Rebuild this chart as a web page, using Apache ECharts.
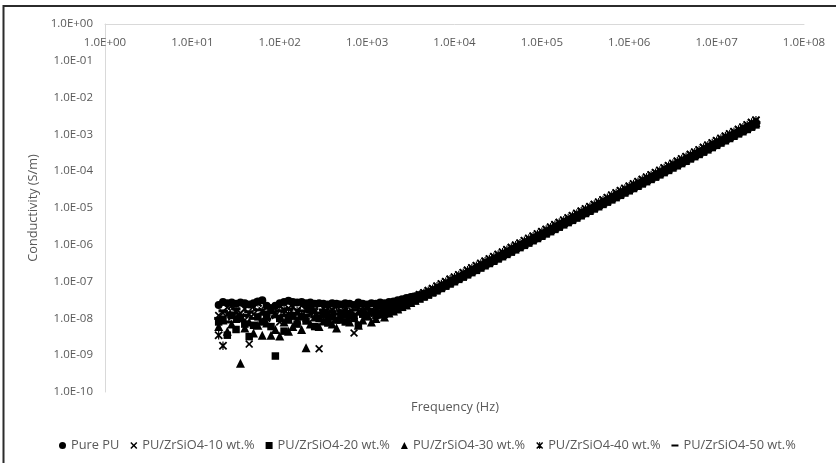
<!DOCTYPE html>
<html>
<head>
<meta charset="utf-8">
<script src="https://cdn.jsdelivr.net/npm/echarts@6/dist/echarts.min.js"></script>
<style>
html,body{margin:0;padding:0;background:#fff;}
#chart{width:836px;height:463px;}
</style>
</head>
<body>
<div id="chart"></div>
<script>
// ---------- DATA ----------
const seriesNames = ['Pure PU', 'PU/ZrSiO4-10 wt.%', 'PU/ZrSiO4-20 wt.%', 'PU/ZrSiO4-30 wt.%', 'PU/ZrSiO4-40 wt.%', 'PU/ZrSiO4-50 wt.%'];
const xTickLabels = ['1.0E+00','1.0E+01','1.0E+02','1.0E+03','1.0E+04','1.0E+05','1.0E+06','1.0E+07','1.0E+08'];
const yTickLabels = ['1.0E-10','1.0E-09','1.0E-08','1.0E-07','1.0E-06','1.0E-05','1.0E-04','1.0E-03','1.0E-02','1.0E-01','1.0E+00'];

// Frequency (Hz)
const freqHz = [
  20, 22.4, 25.1, 28.2, 31.6, 35.5, 39.8, 44.7, 50.1, 56.2, 63.1, 70.8, 79.4, 89.1,
  100, 112, 126, 141, 158, 178, 200, 224, 251, 282, 316, 355, 398, 447, 501, 562, 631, 708, 794, 891,
  1000, 1120, 1260, 1410, 1580, 1780, 2000, 2240, 2510, 2820, 3160, 3550, 3980, 4470, 5010, 5620, 6310, 7080, 7940, 8910,
  1.0e4, 1.12e4, 1.26e4, 1.41e4, 1.58e4, 1.78e4, 2.0e4, 2.24e4, 2.51e4, 2.82e4, 3.16e4, 3.55e4, 3.98e4, 4.47e4, 5.01e4, 5.62e4, 6.31e4, 7.08e4, 7.94e4, 8.91e4,
  1.0e5, 1.12e5, 1.26e5, 1.41e5, 1.58e5, 1.78e5, 2.0e5, 2.24e5, 2.51e5, 2.82e5, 3.16e5, 3.55e5, 3.98e5, 4.47e5, 5.01e5, 5.62e5, 6.31e5, 7.08e5, 7.94e5, 8.91e5,
  1.0e6, 1.12e6, 1.26e6, 1.41e6, 1.58e6, 1.78e6, 2.0e6, 2.24e6, 2.51e6, 2.82e6, 3.16e6, 3.55e6, 3.98e6, 4.47e6, 5.01e6, 5.62e6, 6.31e6, 7.08e6, 7.94e6, 8.91e6,
  1.0e7, 1.12e7, 1.26e7, 1.41e7, 1.58e7, 1.78e7, 2.0e7, 2.24e7, 2.51e7, 2.82e7
];

// Conductivity (S/m), one value per frequency
const condPurePU = [
  2.3e-8, 2.8e-8, 2.6e-8, 2.7e-8, 2.5e-8, 2.7e-8, 2.6e-8, 2.4e-8, 2.6e-8, 2.9e-8, 3.1e-8, 2.2e-8, 1.9e-8, 2.2e-8,
  2.6e-8, 2.8e-8, 3.0e-8, 2.8e-8, 2.7e-8, 2.8e-8, 2.6e-8, 2.7e-8, 2.5e-8, 2.6e-8, 2.5e-8, 2.4e-8, 2.6e-8, 2.5e-8, 2.4e-8, 2.6e-8, 2.5e-8, 2.3e-8, 2.7e-8, 2.5e-8,
  2.4e-8, 2.6e-8, 2.5e-8, 2.7e-8, 2.6e-8, 2.8e-8, 2.9e-8, 3.1e-8, 3.3e-8, 3.6e-8, 3.8e-8, 4.0e-8, 4.3e-8, 4.7e-8, 5.1e-8, 5.7e-8,
  6.5e-8, 7.5e-8, 8.6e-8, 9.9e-8,
  1.15e-7, 1.32e-7, 1.52e-7, 1.75e-7, 2.02e-7, 2.33e-7, 2.69e-7, 3.10e-7, 3.57e-7, 4.12e-7, 4.74e-7, 5.47e-7, 6.31e-7, 7.28e-7, 8.38e-7, 9.66e-7,
  1.11e-6, 1.29e-6, 1.48e-6, 1.71e-6,
  1.97e-6, 2.27e-6, 2.62e-6, 3.01e-6, 3.48e-6, 4.01e-6, 4.62e-6, 5.32e-6, 6.14e-6, 7.08e-6, 8.17e-6, 9.40e-6,
  1.08e-5, 1.25e-5, 1.44e-5, 1.66e-5, 1.91e-5, 2.21e-5, 2.55e-5, 2.93e-5,
  3.38e-5, 3.90e-5, 4.50e-5, 5.18e-5, 5.97e-5, 6.89e-5, 7.94e-5, 9.14e-5,
  1.05e-4, 1.22e-4, 1.40e-4, 1.61e-4, 1.86e-4, 2.15e-4, 2.48e-4, 2.85e-4, 3.29e-4, 3.79e-4, 4.38e-4, 5.04e-4, 5.81e-4, 6.70e-4, 7.73e-4, 8.89e-4,
  1.03e-3, 1.18e-3, 1.36e-3, 1.57e-3, 1.81e-3, 2.09e-3
];
const cond10 = [
  1.2e-8, 1.4e-8, 2.0e-8, 1.1e-8, 1.6e-8, 1.4e-8, 9.0e-9, 2.0e-9, 1.3e-8, 2.6e-8, 1.5e-8, 1.0e-8, 1.7e-8, 1.2e-8,
  8.0e-9, 1.4e-8, 1.9e-8, 1.1e-8, 1.5e-8, 2.2e-8, 1.0e-8, 1.3e-8, 1.7e-8, 1.5e-9, 1.2e-8, 1.8e-8, 1.4e-8, 2.4e-8, 1.1e-8, 1.6e-8, 1.3e-8, 4.0e-9, 1.5e-8, 2.0e-8,
  1.2e-8, 1.7e-8, 1.4e-8, 2.2e-8, 1.6e-8, 1.9e-8, 2.1e-8, 2.4e-8, 2.7e-8, 3.1e-8, 3.5e-8, 3.9e-8, 4.4e-8, 5.0e-8, 5.7e-8, 6.5e-8,
  7.5e-8, 8.6e-8, 9.9e-8, 1.15e-7,
  1.32e-7, 1.52e-7, 1.75e-7, 2.02e-7, 2.33e-7, 2.69e-7, 3.10e-7, 3.57e-7, 4.12e-7, 4.74e-7, 5.47e-7, 6.31e-7, 7.28e-7, 8.38e-7, 9.66e-7, 1.11e-6,
  1.29e-6, 1.48e-6, 1.71e-6, 1.97e-6,
  2.27e-6, 2.62e-6, 3.01e-6, 3.48e-6, 4.01e-6, 4.62e-6, 5.32e-6, 6.14e-6, 7.08e-6, 8.17e-6, 9.40e-6, 1.08e-5,
  1.25e-5, 1.44e-5, 1.66e-5, 1.91e-5, 2.21e-5, 2.55e-5, 2.93e-5, 3.38e-5,
  3.90e-5, 4.50e-5, 5.18e-5, 5.97e-5, 6.89e-5, 7.94e-5, 9.14e-5, 1.05e-4,
  1.22e-4, 1.40e-4, 1.61e-4, 1.86e-4, 2.15e-4, 2.48e-4, 2.85e-4, 3.29e-4, 3.79e-4, 4.38e-4, 5.04e-4, 5.81e-4, 6.70e-4, 7.73e-4, 8.89e-4, 1.03e-3,
  1.18e-3, 1.36e-3, 1.57e-3, 1.81e-3, 2.09e-3, 2.41e-3
];
const cond20 = [
  8.0e-9, 9.5e-9, 3.5e-9, 1.2e-8, 5.0e-9, 1.0e-8, 7.0e-9, 3.2e-9, 6.5e-9, 1.1e-8, 8.0e-9, 1.3e-8, 6.0e-9, 9.5e-10,
  1.0e-8, 4.5e-9, 9.0e-9, 1.2e-8, 7.0e-9, 1.1e-8, 8.5e-9, 1.7e-8, 6.0e-9, 1.0e-8, 1.3e-8, 7.5e-9, 1.1e-8, 9.0e-9, 1.4e-8, 8.0e-9, 1.2e-8, 1.0e-8, 6.5e-9, 1.3e-8,
  1.1e-8, 1.5e-8, 1.2e-8, 1.4e-8, 1.3e-8, 1.5e-8, 1.6e-8, 1.8e-8, 2.0e-8, 2.3e-8, 2.6e-8, 3.0e-8, 3.4e-8, 3.8e-8, 4.3e-8, 4.9e-8,
  5.6e-8, 6.5e-8, 7.5e-8, 8.6e-8,
  9.9e-8, 1.15e-7, 1.32e-7, 1.52e-7, 1.75e-7, 2.02e-7, 2.33e-7, 2.69e-7, 3.10e-7, 3.57e-7, 4.12e-7, 4.74e-7, 5.47e-7, 6.31e-7, 7.28e-7, 8.38e-7,
  9.66e-7, 1.11e-6, 1.29e-6, 1.48e-6,
  1.71e-6, 1.97e-6, 2.27e-6, 2.62e-6, 3.01e-6, 3.48e-6, 4.01e-6, 4.62e-6, 5.32e-6, 6.14e-6, 7.08e-6, 8.17e-6,
  9.40e-6, 1.08e-5, 1.25e-5, 1.44e-5, 1.66e-5, 1.91e-5, 2.21e-5, 2.55e-5,
  2.93e-5, 3.38e-5, 3.90e-5, 4.50e-5, 5.18e-5, 5.97e-5, 6.89e-5, 7.94e-5,
  9.14e-5, 1.05e-4, 1.22e-4, 1.40e-4, 1.61e-4, 1.86e-4, 2.15e-4, 2.48e-4, 2.85e-4, 3.29e-4, 3.79e-4, 4.38e-4, 5.04e-4, 5.81e-4, 6.70e-4, 7.73e-4,
  8.89e-4, 1.03e-3, 1.18e-3, 1.36e-3, 1.57e-3, 1.81e-3
];
const cond30 = [
  6.0e-9, 9.0e-9, 4.5e-9, 7.0e-9, 1.0e-8, 6.0e-10, 5.5e-9, 8.0e-9, 4.0e-9, 6.5e-9, 3.5e-9, 7.5e-9, 3.5e-9, 5.0e-9,
  3.3e-9, 8.0e-9, 4.5e-9, 6.0e-9, 9.0e-9, 5.0e-9, 1.6e-9, 7.0e-9, 1.1e-8, 6.0e-9, 8.5e-9, 1.2e-8, 7.0e-9, 5.5e-9, 9.5e-9, 1.3e-8, 8.0e-9, 1.1e-8, 6.5e-9, 9.0e-9,
  1.2e-8, 8.0e-9, 1.0e-8, 1.3e-8, 1.1e-8, 1.4e-8, 1.6e-8, 1.8e-8, 2.1e-8, 2.3e-8, 2.7e-8, 3.1e-8, 3.6e-8, 4.1e-8, 4.7e-8, 5.5e-8,
  6.5e-8, 7.5e-8, 8.6e-8, 9.9e-8,
  1.15e-7, 1.32e-7, 1.52e-7, 1.75e-7, 2.02e-7, 2.33e-7, 2.69e-7, 3.10e-7, 3.57e-7, 4.12e-7, 4.74e-7, 5.47e-7, 6.31e-7, 7.28e-7, 8.38e-7, 9.66e-7,
  1.11e-6, 1.29e-6, 1.48e-6, 1.71e-6,
  1.97e-6, 2.27e-6, 2.62e-6, 3.01e-6, 3.48e-6, 4.01e-6, 4.62e-6, 5.32e-6, 6.14e-6, 7.08e-6, 8.17e-6, 9.40e-6,
  1.08e-5, 1.25e-5, 1.44e-5, 1.66e-5, 1.91e-5, 2.21e-5, 2.55e-5, 2.93e-5,
  3.38e-5, 3.90e-5, 4.50e-5, 5.18e-5, 5.97e-5, 6.89e-5, 7.94e-5, 9.14e-5,
  1.05e-4, 1.22e-4, 1.40e-4, 1.61e-4, 1.86e-4, 2.15e-4, 2.48e-4, 2.85e-4, 3.29e-4, 3.79e-4, 4.38e-4, 5.04e-4, 5.81e-4, 6.70e-4, 7.73e-4, 8.89e-4,
  1.03e-3, 1.18e-3, 1.36e-3, 1.57e-3, 1.81e-3, 2.09e-3
];
const cond40 = [
  3.5e-9, 1.8e-9, 1.3e-8, 2.2e-8, 1.5e-8, 1.1e-8, 1.8e-8, 1.3e-8, 2.1e-8, 2.7e-8, 1.6e-8, 1.2e-8, 1.9e-8, 1.4e-8,
  2.2e-8, 1.7e-8, 1.3e-8, 2.0e-8, 1.6e-8, 1.2e-8, 1.8e-8, 2.3e-8, 1.5e-8, 1.1e-8, 1.9e-8, 1.4e-8, 1.7e-8, 2.1e-8, 1.3e-8, 1.8e-8, 1.5e-8, 1.2e-8, 2.0e-8, 1.6e-8,
  1.9e-8, 1.4e-8, 1.8e-8, 2.1e-8, 1.9e-8, 2.2e-8, 2.4e-8, 2.6e-8, 2.9e-8, 3.2e-8, 3.5e-8, 3.9e-8, 4.4e-8, 4.9e-8, 5.6e-8, 6.4e-8,
  7.5e-8, 8.6e-8, 9.9e-8, 1.15e-7,
  1.32e-7, 1.52e-7, 1.75e-7, 2.02e-7, 2.33e-7, 2.69e-7, 3.10e-7, 3.57e-7, 4.12e-7, 4.74e-7, 5.47e-7, 6.31e-7, 7.28e-7, 8.38e-7, 9.66e-7, 1.11e-6,
  1.29e-6, 1.48e-6, 1.71e-6, 1.97e-6,
  2.27e-6, 2.62e-6, 3.01e-6, 3.48e-6, 4.01e-6, 4.62e-6, 5.32e-6, 6.14e-6, 7.08e-6, 8.17e-6, 9.40e-6, 1.08e-5,
  1.25e-5, 1.44e-5, 1.66e-5, 1.91e-5, 2.21e-5, 2.55e-5, 2.93e-5, 3.38e-5,
  3.90e-5, 4.50e-5, 5.18e-5, 5.97e-5, 6.89e-5, 7.94e-5, 9.14e-5, 1.05e-4,
  1.22e-4, 1.40e-4, 1.61e-4, 1.86e-4, 2.15e-4, 2.48e-4, 2.85e-4, 3.29e-4, 3.79e-4, 4.38e-4, 5.04e-4, 5.81e-4, 6.70e-4, 7.73e-4, 8.89e-4, 1.03e-3,
  1.18e-3, 1.36e-3, 1.57e-3, 1.81e-3, 2.09e-3, 2.41e-3
];
const cond50 = [
  1.0e-8, 1.6e-8, 8.0e-9, 1.4e-8, 1.8e-8, 9.0e-9, 1.2e-8, 1.5e-8, 1.0e-8, 1.7e-8, 1.3e-8, 9.5e-9, 1.4e-8, 1.1e-8,
  1.6e-8, 1.2e-8, 1.8e-8, 1.0e-8, 1.3e-8, 1.6e-8, 1.2e-8, 1.5e-8, 1.1e-8, 1.4e-8, 1.7e-8, 1.2e-8, 1.5e-8, 1.3e-8, 1.6e-8, 1.1e-8, 1.4e-8, 1.7e-8, 1.3e-8, 1.5e-8,
  1.8e-8, 1.4e-8, 1.6e-8, 1.9e-8, 1.7e-8, 1.9e-8, 2.1e-8, 2.3e-8, 2.6e-8, 2.9e-8, 3.2e-8, 3.6e-8, 4.1e-8, 4.6e-8, 5.1e-8, 5.7e-8,
  6.5e-8, 7.5e-8, 8.6e-8, 9.9e-8,
  1.15e-7, 1.32e-7, 1.52e-7, 1.75e-7, 2.02e-7, 2.33e-7, 2.69e-7, 3.10e-7, 3.57e-7, 4.12e-7, 4.74e-7, 5.47e-7, 6.31e-7, 7.28e-7, 8.38e-7, 9.66e-7,
  1.11e-6, 1.29e-6, 1.48e-6, 1.71e-6,
  1.97e-6, 2.27e-6, 2.62e-6, 3.01e-6, 3.48e-6, 4.01e-6, 4.62e-6, 5.32e-6, 6.14e-6, 7.08e-6, 8.17e-6, 9.40e-6,
  1.08e-5, 1.25e-5, 1.44e-5, 1.66e-5, 1.91e-5, 2.21e-5, 2.55e-5, 2.93e-5,
  3.38e-5, 3.90e-5, 4.50e-5, 5.18e-5, 5.97e-5, 6.89e-5, 7.94e-5, 9.14e-5,
  1.05e-4, 1.22e-4, 1.40e-4, 1.61e-4, 1.86e-4, 2.15e-4, 2.48e-4, 2.85e-4, 3.29e-4, 3.79e-4, 4.38e-4, 5.04e-4, 5.81e-4, 6.70e-4, 7.73e-4, 8.89e-4,
  1.03e-3, 1.18e-3, 1.36e-3, 1.57e-3, 1.81e-3, 2.09e-3
];
const seriesValues = [condPurePU, cond10, cond20, cond30, cond40, cond50];

// ---------- STYLE ----------
const FONT = 'Open Sans';
const TXT = '#595959';
const X_PATH = 'path://M0,1.5L1.5,0L5,3.5L8.5,0L10,1.5L6.5,5L10,8.5L8.5,10L5,6.5L1.5,10L0,8.5L3.5,5Z';
const STAR_PATH = 'path://M0,1.5L1.5,0L5,3.5L8.5,0L10,1.5L6.5,5L10,8.5L8.5,10L5,6.5L1.5,10L0,8.5L3.5,5Z M4.3,0L5.7,0L5.7,10L4.3,10Z';
const DASH_ICON = 'path://M0,0L0.01,0L0.01,0.01L0,0.01Z M0,3.6L10,3.6L10,6.4L0,6.4Z M9.99,9.99L10,9.99L10,10L9.99,10Z';
const symbols = ['circle', X_PATH, 'rect', 'triangle', STAR_PATH, 'rect'];
const symbolSizes = [8, 8, 7.5, 9, 8.5, [9, 3]];
const legendIcons = ['circle', X_PATH, 'rect', 'triangle', STAR_PATH, DASH_ICON];

const chart = echarts.init(document.getElementById('chart'), null, {renderer: 'canvas'});

const series = seriesNames.map((name, i) => ({
  name: name,
  type: 'scatter',
  symbol: symbols[i],
  symbolSize: symbolSizes[i],
  itemStyle: {color: '#000', opacity: 1},
  emphasis: {disabled: true},
  animation: false,
  data: freqHz.map((f, k) => [f, seriesValues[i][k]])
}));

chart.setOption({
  animation: false,
  backgroundColor: '#fff',
  textStyle: {fontFamily: FONT},
  grid: {left: 105, right: 32, top: 24, bottom: 71, containLabel: false},
  xAxis: {
    type: 'log', logBase: 10, min: 1, max: 1e8, interval: 1,
    position: 'top',
    axisLine: {show: true, lineStyle: {color: '#d9d9d9', width: 1}},
    axisTick: {show: false},
    splitLine: {show: false},
    axisLabel: {
      inside: true, margin: 13, color: TXT, fontSize: 11.5, fontFamily: FONT,
      formatter: v => xTickLabels[Math.round(Math.log10(v))]
    }
  },
  yAxis: {
    type: 'log', logBase: 10, min: 1e-10, max: 1, interval: 1,
    axisLine: {show: true, lineStyle: {color: '#d9d9d9', width: 1}},
    axisTick: {show: false},
    splitLine: {show: false},
    axisLabel: {
      margin: 12, color: TXT, fontSize: 11.5, fontFamily: FONT,
      formatter: v => yTickLabels[Math.round(Math.log10(v)) + 10]
    },
    name: 'Conductivity (S/m)', nameLocation: 'middle', nameGap: 64, nameRotate: 90,
    nameTextStyle: {color: TXT, fontSize: 12.7, fontFamily: FONT}
  },
  legend: {
    left: 54, top: 434,
    itemWidth: 7, itemHeight: 7, itemGap: 11,
    textStyle: {color: TXT, fontSize: 12.8, fontFamily: FONT},
    data: seriesNames.map((n, i) => ({name: n, icon: legendIcons[i], itemStyle: {color: '#000'}}))
  },
  graphic: [
    {type: 'rect', silent: true, shape: {x: 3.5, y: 6, width: 900, height: 500},
     style: {fill: 'none', stroke: '#2b2b2b', lineWidth: 2}},
    {type: 'text', silent: true, x: 455, y: 407,
     style: {text: 'Frequency (Hz)', fill: TXT, font: '12.7px "Open Sans"', textAlign: 'center', textVerticalAlign: 'middle'}}
  ],
  series: series
});
</script>
</body>
</html>
